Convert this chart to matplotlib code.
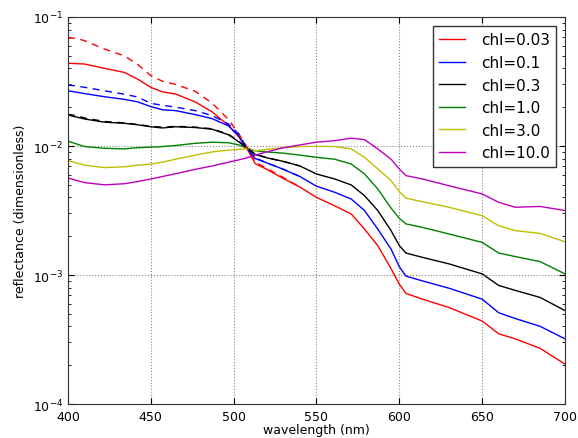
import matplotlib
matplotlib.use("Agg")
import matplotlib.pyplot as plt

wavelength = [400, 410, 422, 434, 442, 450, 457, 465, 477, 487, 497, 503, 508, 513,
              520, 530, 540, 550, 561, 571, 579, 587, 595, 600, 604, 614, 630, 650,
              660, 670, 685, 700]

chl_003 = [.0438, .0432, .0400, .0372, .0330, .0285, .0263, .0253, .0219, .0184, .0144,
           .0118, .0096, .0073, .0066, .0056, .0048, .0040, .00344, .00297, .00227,
           .00169, .00112, .00085, .00072, .00065, .00056, .00044, .00035, .00032,
           .00027, .000204]
chl_01 = [.0268, .0255, .0241, .0230, .0220, .0202, .0191, .0188, .0175, .0163, .0143,
          .0120, .0096, .0080, .0074, .0066, .0058, .00488, .00438, .00388, .00316,
          .00227, .00159, .00116, .00098, .00090, .00079, .00065, .00051, .00046,
          .00040, .00032]
chl_03 = [.0174, .0162, .0153, .0150, .0146, .0141, .0138, .0141, .0139, .0135, .0122,
          .0108, .0096, .0086, .0081, .0076, .0070, .00607, .00555, .00499, .00412,
          .00316, .00221, .00169, .00148, .00137, .00122, .00102, .00083, .00076,
          .00067, .00053]
chl_10 = [.0109, .0099, .0096, .0095, .0097, .0098, .0099, .0101, .0105, .0107, .0106,
          .0102, .0096, .0092, .0090, .0088, .0085, .00817, .0079, .00725, .00607,
          .00465, .00330, .00275, .00249, .00234, .00208, .00179, .00148, .00139,
          .00127, .00102]
chl_30 = [.0077, .0071, .0068, .0069, .0071, .00725, .0075, .0079, .0085, .0090, .0093,
          .0094, .0095, .0092, .0094, .0097, .0099, .00995, .0099, .0095, .00817,
          .00664, .0054, .00443, .00394, .0037, .00335, .00288, .00241, .00221,
          .00210, .00181]
chl_100 = [.00565, .0052, .0050, .0051, .0053, .00555, .0058, .0061, .0066, .0070, .0075,
           .0078, .0081, .0085, .0090, .0097, .0102, .0107, .0110, .0115, .0112,
           .0095, .0079, .00664, .00589, .00555, .00492, .00425, .00366, .00335,
           .00340, .00316]

wavelength_dash = [400, 405, 410, 422, 434, 442, 450, 457, 465, 477, 487, 497, 503, 508,
                   513, 520, 530, 540]
chl_003_dash = [.0687, .0685, .0655, .0565, .0500, .0430, .0351, .0318, .0300, .0265,
                .0215, .0160, .0125, .0098, .0075, .0067, .0057, .0048]
chl_01_dash = [.0297, .0292, .0285, .0268, .0252, .0240, .0214, .0207, .0200, .0188,
               .0172, .0148, .0124, .0097, .0081, .0074, .0066, .0058]
chl_03_dash = [.0176, .0172, .0165, .0155, .0151, .0147, .0142, .0140, .0142, .0140,
               .0136, .0123, .0109, .0097, .0087, .0081, .0076, .0070]

labels = ["chl=0.03", "chl=0.1", "chl=0.3", "chl=1.0", "chl=3.0", "chl=10.0"]
colors = ["#ff0000", "#0000ff", "#000000", "#008000", "#bfbf00", "#bf00bf"]

plt.rcParams['font.family'] = ['DejaVu Sans']
fig = plt.figure(figsize=(5.78, 4.39), dpi=100, facecolor="white")
ax = fig.add_axes([0.1176, 0.0774, 0.8599, 0.8816])

series = [chl_003, chl_01, chl_03, chl_10, chl_30, chl_100]
for vals, lab, c in zip(series, labels, colors):
    ax.plot(wavelength, vals, color=c, lw=1.0, label=lab)

for vals, c in zip([chl_003_dash, chl_01_dash, chl_03_dash], colors[:3]):
    ax.plot(wavelength_dash, vals, color=c, lw=1.0, linestyle=(0, (5, 4)))

ax.set_yscale("log")
ax.set_xlim(400, 700)
ax.set_ylim(1e-4, 1e-1)
ax.set_xticks([400, 450, 500, 550, 600, 650, 700])
ax.grid(True, which="major", color="#888888", linestyle=":", linewidth=0.8)
ax.tick_params(which="both", direction="in", top=True, right=True, labelsize=9)
ax.tick_params(which="major", length=4)
ax.tick_params(which="minor", length=2)
ax.tick_params(axis="x", pad=4.5)
for s in ax.spines.values():
    s.set_color("#333333")
ax.set_xlabel("wavelength (nm)", fontsize=9, labelpad=-0.5)
ax.set_ylabel("reflectance (dimensionless)", fontsize=9)

leg = ax.legend(loc="upper right", fontsize=11, fancybox=False, framealpha=1,
                edgecolor="#333333", borderaxespad=0.6, handlelength=1.7,
                labelspacing=0.5, handletextpad=1.0)
leg.get_frame().set_linewidth(1.0)

fig.savefig("out.png", dpi=100, facecolor="white")
